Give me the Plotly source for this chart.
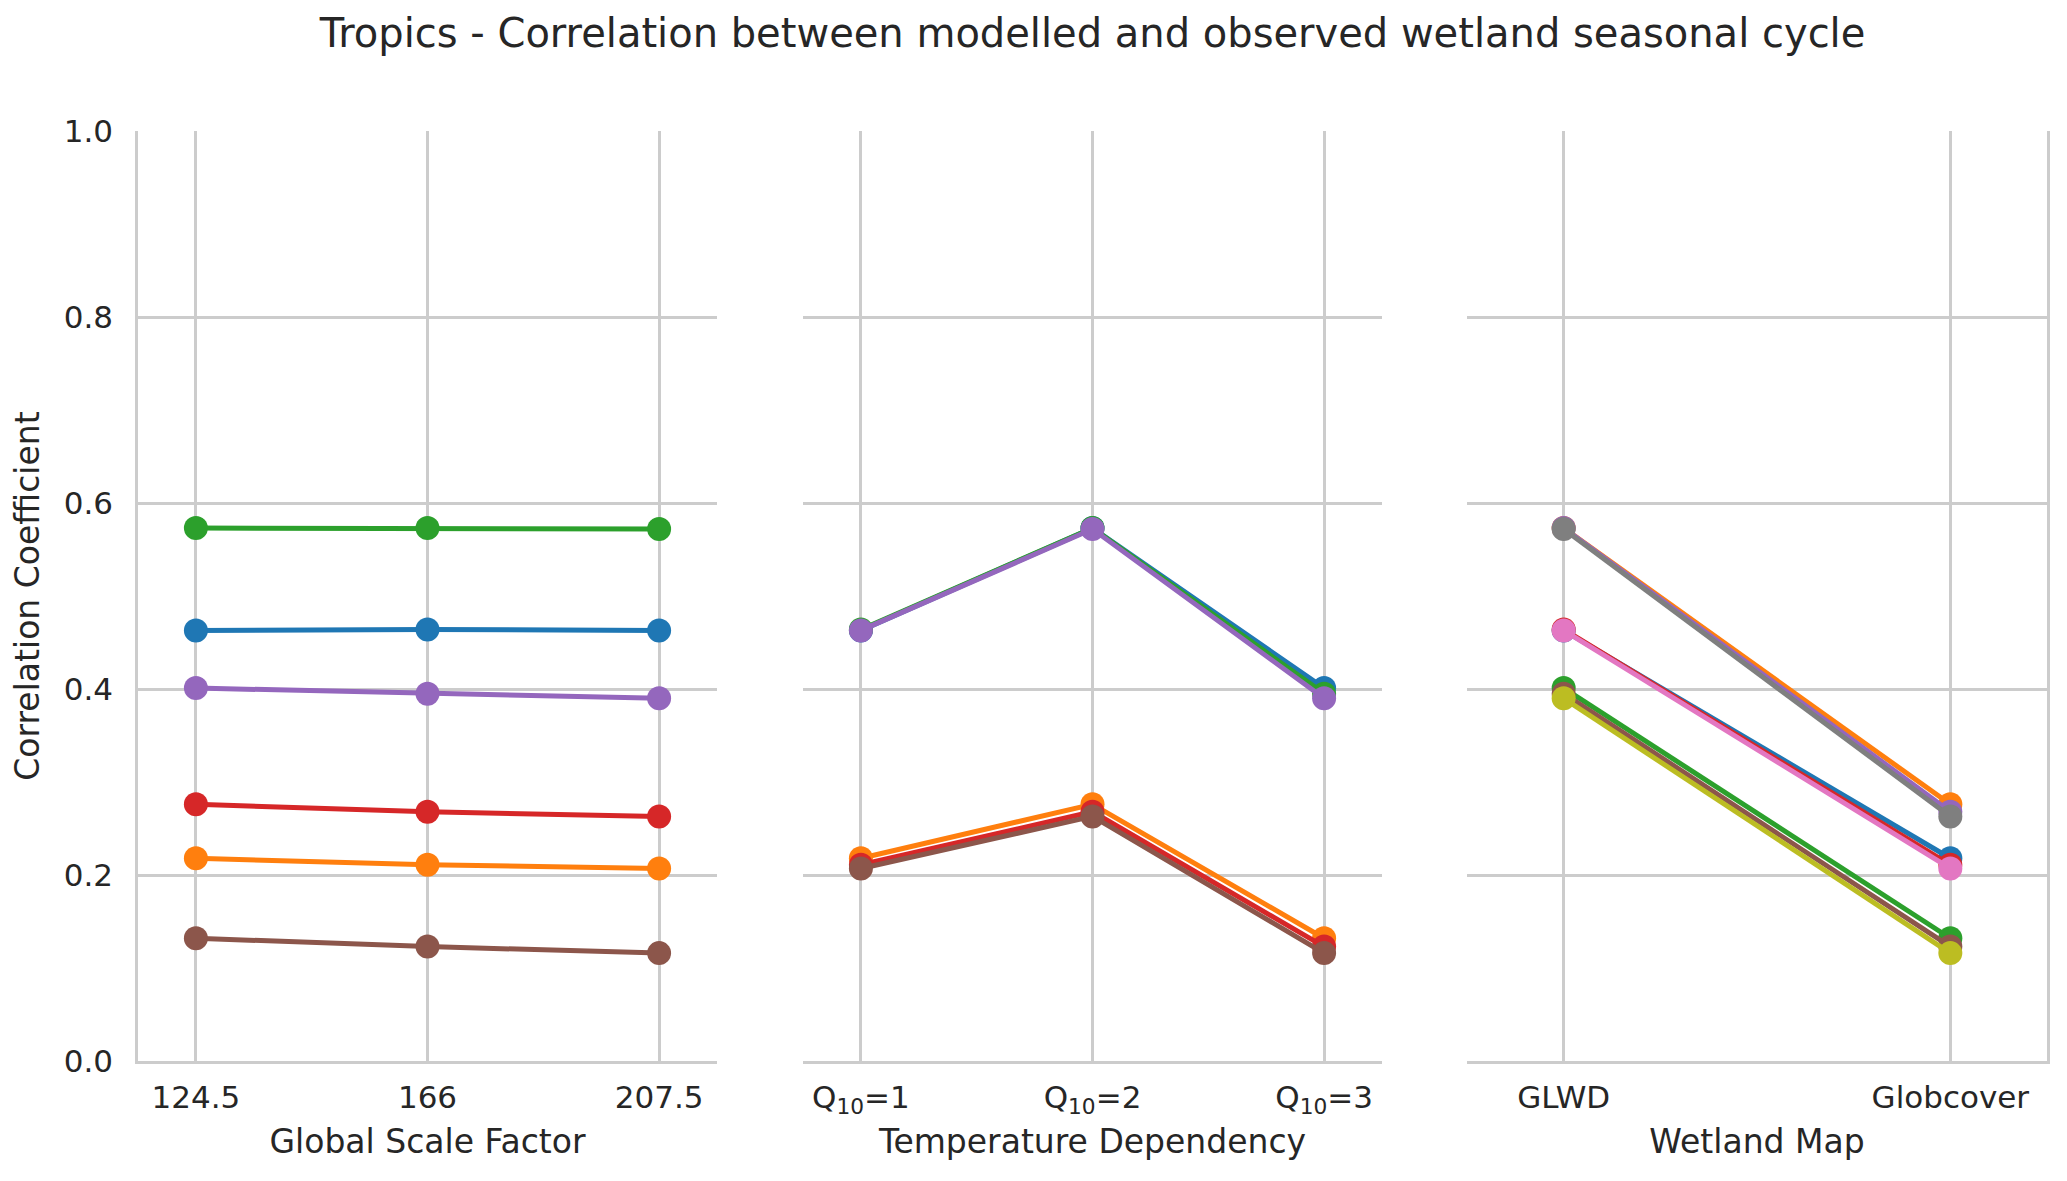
import plotly.graph_objects as go

# ---- data ----
scale_factors = ["124.5", "166", "207.5"]
q10_labels = ["Q<sub>10</sub>=1", "Q<sub>10</sub>=2", "Q<sub>10</sub>=3"]
wetland_maps = ["GLWD", "Globcover"]
# correlation coefficient, rows = global scale factor, columns = Q10
corr_glwd = [[0.463, 0.573, 0.401],
             [0.464, 0.573, 0.395],
             [0.463, 0.572, 0.390]]
corr_globcover = [[0.218, 0.276, 0.132],
                  [0.211, 0.268, 0.123],
                  [0.207, 0.263, 0.116]]

colors = ["#1f77b4", "#ff7f0e", "#2ca02c", "#d62728", "#9467bd",
          "#8c564b", "#e377c2", "#7f7f7f", "#bcbd22"]

maps_data = [corr_glwd, corr_globcover]

# page has an 8px body margin; work in figure coordinates
W, H = 2059, 1165
ML, MR, MT, MB = 130, 20, 123, 112
PW = W - ML - MR
d1 = [0.0, (709 - ML) / PW]
d2 = [(795 - ML) / PW, (1374 - ML) / PW]
d3 = [(1459 - ML) / PW, 1.0]

TXT = "#262626"
GRID = "#cccccc"
FONT = "DejaVu Sans"

fig = go.Figure()

def add(x, y, color, xa, ya):
    fig.add_trace(go.Scatter(
        x=x, y=y, mode="lines+markers", xaxis=xa, yaxis=ya,
        line=dict(color=color, width=5),
        marker=dict(color=color, size=24),
        showlegend=False, hoverinfo="skip"))

# Panel 1: x = scale factor, one line per (Q10, map)
for qi in range(3):
    for mi in range(2):
        y = [maps_data[mi][si][qi] for si in range(3)]
        add(scale_factors, y, colors[qi * 2 + mi], "x", "y")

# Panel 2: x = Q10, one line per (scale factor, map)
for si in range(3):
    for mi in range(2):
        y = [maps_data[mi][si][qi] for qi in range(3)]
        add(q10_labels, y, colors[si * 2 + mi], "x2", "y2")

# Panel 3: x = wetland map, one line per (scale factor, Q10)
for si in range(3):
    for qi in range(3):
        y = [maps_data[mi][si][qi] for mi in range(2)]
        add(wetland_maps, y, colors[si * 3 + qi], "x3", "y3")

xcommon = dict(showgrid=True, gridcolor=GRID, gridwidth=2.5,
               showline=True, linecolor=GRID, linewidth=2.5,
               zeroline=False, ticks="", type="category",
               tickfont=dict(size=31, color=TXT, family=FONT),
               ticklabelstandoff=7,
               title_font=dict(size=33, color=TXT, family=FONT),
               fixedrange=True)
ycommon = dict(range=[0, 1], dtick=0.2, tick0=0, tickformat=".1f",
               showgrid=True, gridcolor=GRID, gridwidth=2.5,
               zeroline=False, ticks="",
               tickfont=dict(size=31, color=TXT, family=FONT),
               fixedrange=True)

fig.update_layout(
    width=W, height=H,
    margin=dict(l=ML, r=MR, t=MT, b=MB),
    paper_bgcolor="white", plot_bgcolor="white",
    font=dict(family=FONT, color=TXT),
    title=dict(text="Tropics - Correlation between modelled and observed wetland seasonal cycle",
               x=0.5, xref="paper", xanchor="center",
               y=1 - 25 / H, yref="container", yanchor="middle",
               font=dict(size=40, color=TXT, family=FONT)),
    xaxis=dict(domain=d1, range=[-0.25, 2.25], anchor="y",
               title=dict(text="Global Scale Factor", standoff=16), **xcommon),
    xaxis2=dict(domain=d2, range=[-0.25, 2.25], anchor="y2",
                title=dict(text="Temperature Dependency", standoff=12), **xcommon),
    xaxis3=dict(domain=d3, range=[-0.25, 1.25], anchor="y3",
                title=dict(text="Wetland Map", standoff=16), **xcommon),
    yaxis=dict(anchor="x", showline=True, linecolor=GRID, linewidth=2.5,
               ticklabelstandoff=16,
               title=dict(text="Correlation Coefficient", standoff=22,
                          font=dict(size=33, color=TXT, family=FONT)),
               **ycommon),
    yaxis2=dict(anchor="x2", matches="y", showticklabels=False, showline=False, **ycommon),
    yaxis3=dict(anchor="x3", matches="y", showticklabels=False, side="right",
                showline=True, linecolor=GRID, linewidth=2.5, **ycommon),
)

fig.write_html("out.html")
